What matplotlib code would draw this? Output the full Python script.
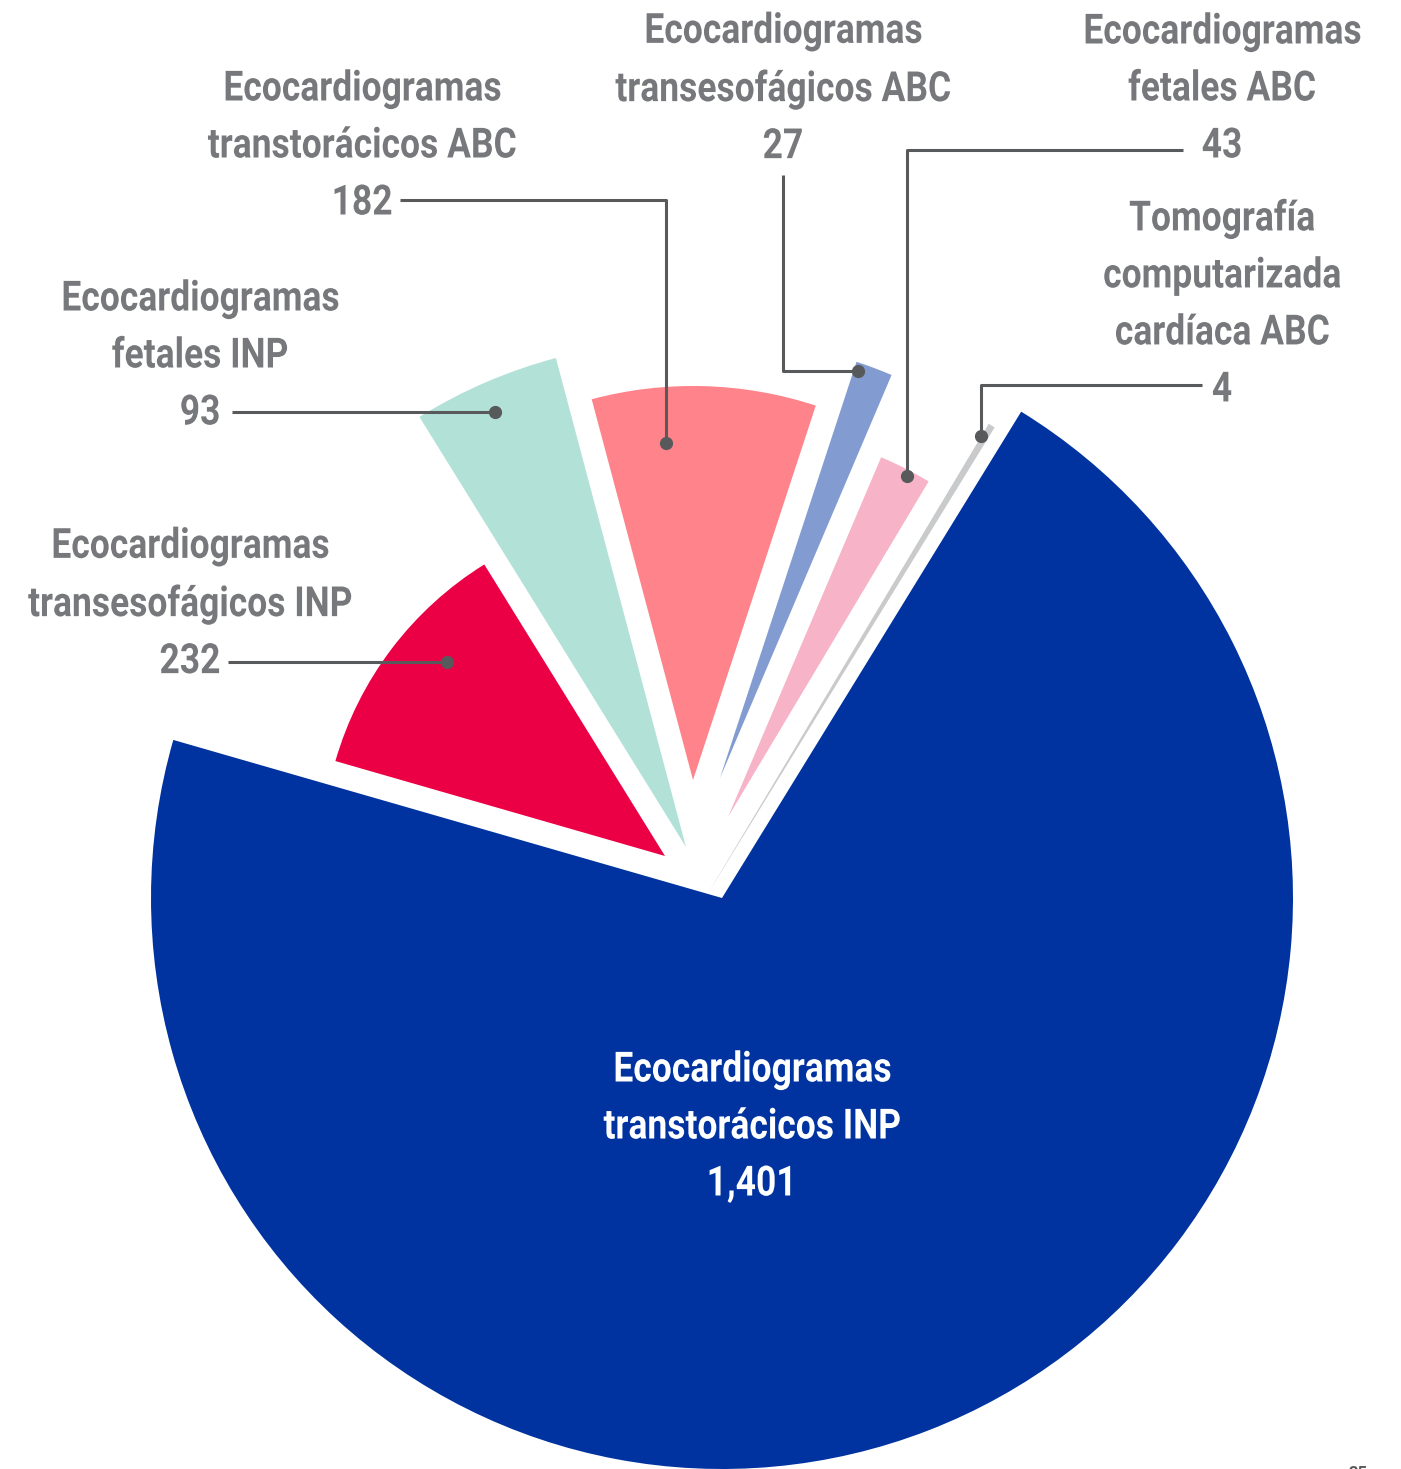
import matplotlib.pyplot as plt
from matplotlib.patches import Wedge
from matplotlib.patheffects import AbstractPathEffect
from matplotlib.transforms import Affine2D

# ---------------------------------------------------
# Data (counter-clockwise, starting at the upper right)
# ---------------------------------------------------
labels = [
    "Tomografía\ncomputarizada\ncardíaca ABC",
    "Ecocardiogramas\nfetales ABC",
    "Ecocardiogramas\ntransesofágicos ABC",
    "Ecocardiogramas\ntranstorácicos ABC",
    "Ecocardiogramas\nfetales INP",
    "Ecocardiogramas\ntransesofágicos INP",
    "Ecocardiogramas\ntranstorácicos INP",
]
values = [4, 43, 27, 182, 93, 232, 1401]
colors = ["#C9CACB", "#F7B3C7", "#829CD1", "#FF838A", "#B2E1D7", "#EB0045", "#0033A0"]

# ---------------------------------------------------
# Layout (pixel units, origin at the apex of the big slice)
# ---------------------------------------------------
START_ANGLE = 58.4
radii = [549, 391, 438, 394, 506, 343, 571]
offsets = [(-15, 3), (6, 81), (-2, 120), (-29, 118), (-36, 51), (-57, 42), (0, 0)]

# label block centres, in image pixels
label_pos = [(1222, 304), (1222, 89), (783, 89), (362, 146), (200, 356), (190, 604), (752, 1127)]
# leader lines (image pixels), last point gets the dot
leaders = [
    [(1202, 385), (981, 385), (981, 436)],
    [(1183, 150), (907, 150), (907, 476)],
    [(783, 175), (783, 371), (858, 371)],
    [(400, 200), (666, 200), (666, 443)],
    [(232, 412), (495, 412)],
    [(228, 662), (447, 662)],
    None,
]

W, H = 1401, 1469
OX, OY = 722, 898


def to_data(p):
    return p[0] - OX, OY - p[1]


class Condensed(AbstractPathEffect):
    """Squeeze each text line horizontally around its own centre."""

    def __init__(self, sx):
        super().__init__()
        self.sx = sx

    def draw_path(self, renderer, gc, tpath, affine, rgbFace=None):
        ext = tpath.get_extents()
        cx = (ext.x0 + ext.x1) / 2
        squeeze = Affine2D().translate(-cx, 0).scale(self.sx, 1).translate(cx, 0)
        renderer.draw_path(gc, tpath, squeeze + affine, rgbFace)


TEXT_GRAY = "#77787B"
LINE_GRAY = "#58595B"
FONT = ["Roboto", "DejaVu Sans"]
SQUEEZE = [Condensed(0.85)]

fig = plt.figure(figsize=(W / 100, H / 100), dpi=100)
ax = fig.add_axes([0, 0, 1, 1])
ax.set_xlim(-OX, W - OX)
ax.set_ylim(OY - H, OY)
ax.axis("off")

total = sum(values)
theta = START_ANGLE
for val, col, r, off in zip(values, colors, radii, offsets):
    span = val / total * 360
    ax.add_patch(Wedge(off, r, theta, theta + span, facecolor=col, edgecolor="none"))
    theta += span

for lab, val, pos, lead in zip(labels, values, label_pos, leaders):
    x, y = to_data(pos)
    txt = f"{lab}\n{val:,}"
    color = "white" if lead is None else TEXT_GRAY
    ax.text(x, y, txt, ha="center", va="center", multialignment="center",
            fontsize=30, fontweight="bold", color=color, family=FONT,
            linespacing=1.5, path_effects=SQUEEZE)
    if lead is not None:
        xs, ys = zip(*[to_data(p) for p in lead])
        ax.plot(xs, ys, color=LINE_GRAY, lw=2.2, solid_capstyle="butt")
        ax.plot(xs[-1], ys[-1], "o", color=LINE_GRAY, markersize=8.5)

# page number, cut off by the bottom edge
px, py = to_data((1358, 1474))
ax.text(px, py, "35", ha="center", va="center", fontsize=12, fontweight="bold",
        color=LINE_GRAY, family=FONT)

fig.savefig("out.png", dpi=100)
